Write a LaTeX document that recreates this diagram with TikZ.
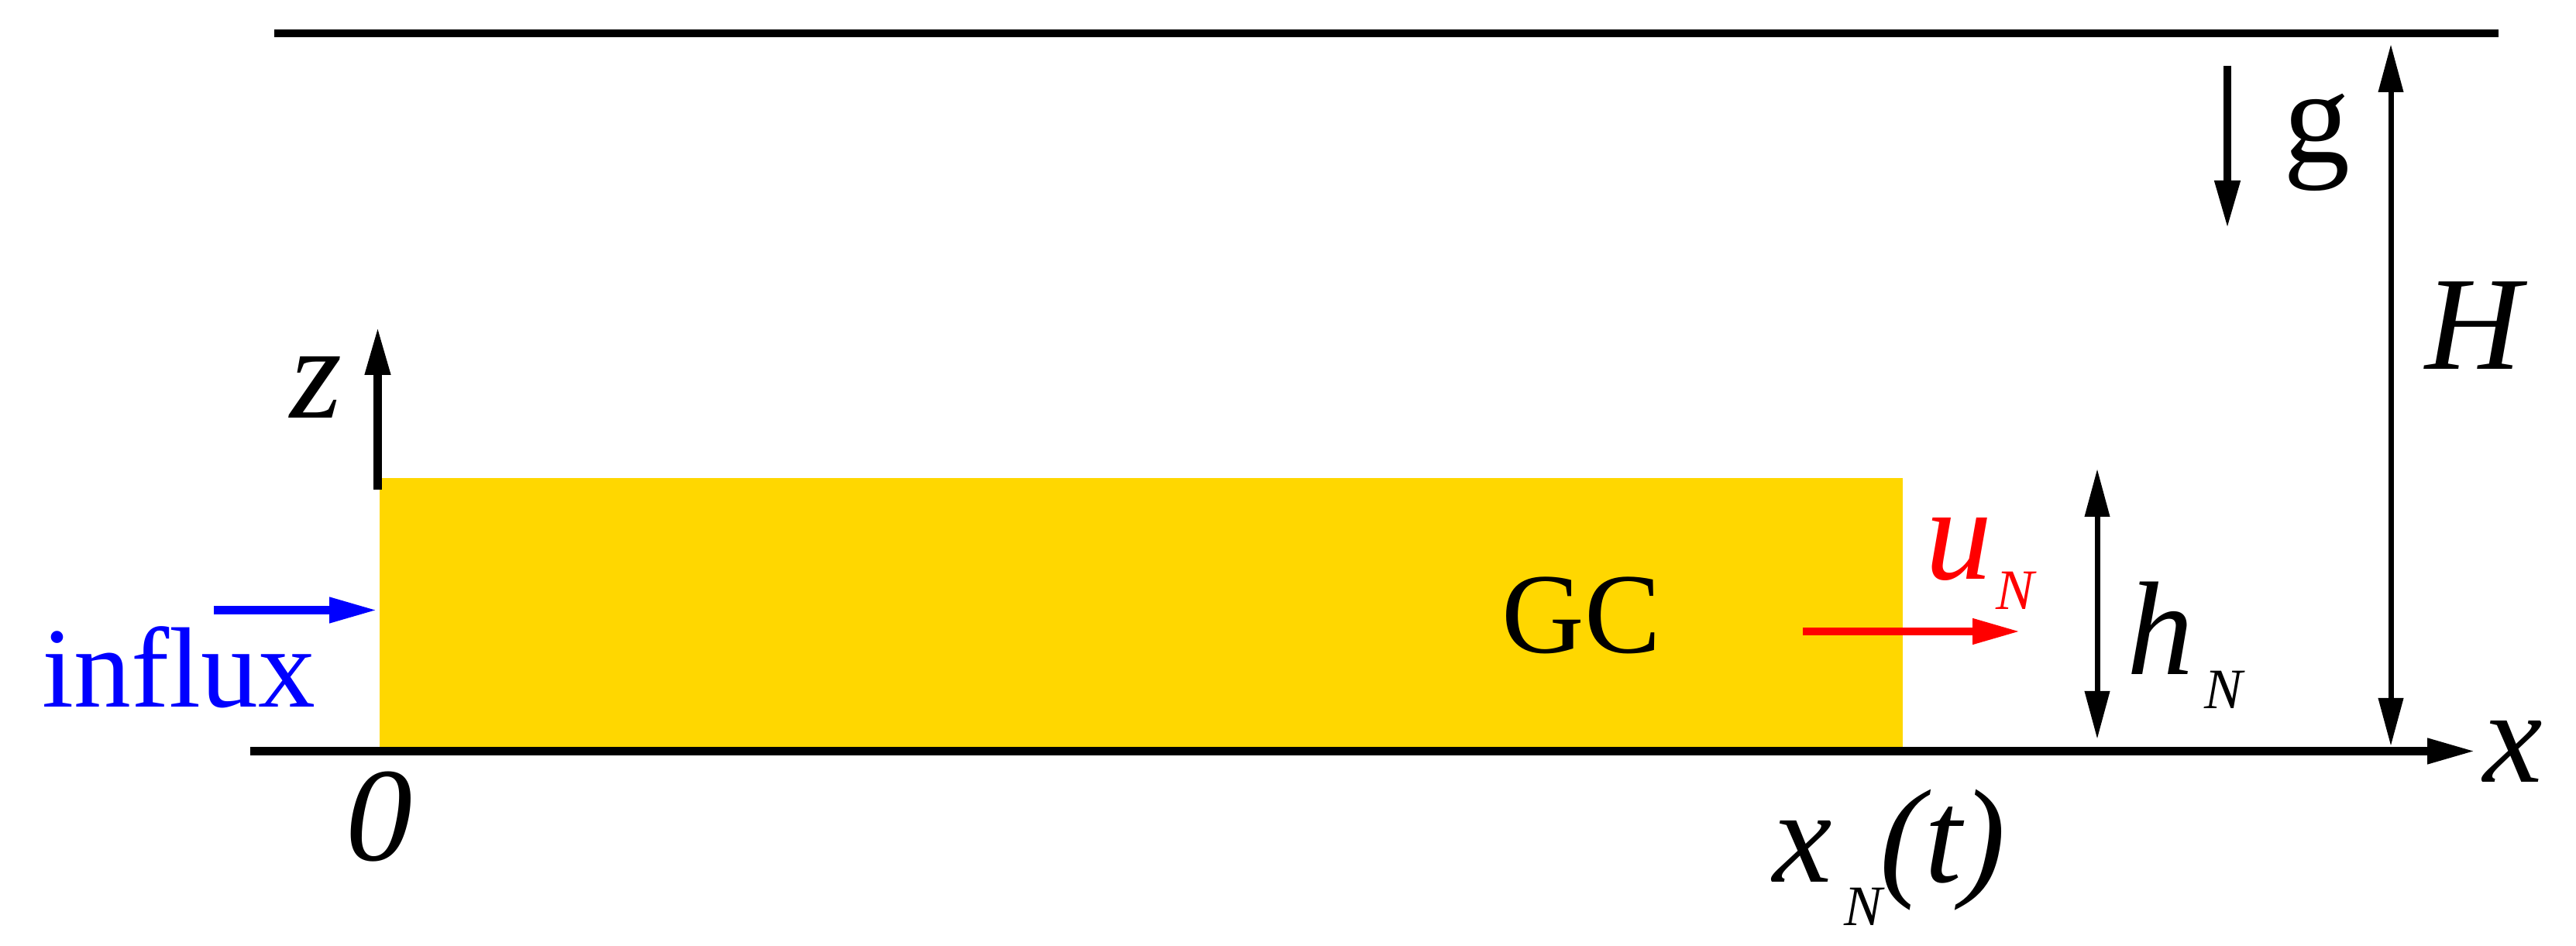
\documentclass[tikz,border=0pt]{standalone}
\usepackage{fontspec}
\setmainfont{Liberation Serif}
\usetikzlibrary{arrows.meta}
\definecolor{gcyellow}{RGB}{255,215,0}
\newcommand{\bigit}{\fontsize{49}{59}\selectfont\itshape}
\newcommand{\bigup}{\fontsize{49}{59}\selectfont}
\newcommand{\subit}{\fontsize{21}{25}\selectfont\itshape}
\newcommand{\bigrm}{\fontsize{42}{50}\selectfont}
\begin{document}
\begin{tikzpicture}[>={Triangle[length=0.62cm,width=0.31cm]},
	wall/.style={line width=0.105cm},
	thinarr/.style={line width=0.07cm,<->},
	lbl/.style={inner sep=0pt,anchor=base west}]
	\useasboundingbox (0,0) rectangle (33.25,12.21);
	% current body
	\fill[gcyellow] (4.90,2.57) rectangle (24.56,6.04);
	% walls
	\coordinate (bl) at (3.23,2.515);
	\coordinate (br) at (31.95,2.515);
	\coordinate (tl) at (3.54,11.78);
	\coordinate (tr) at (32.25,11.78);
	\draw[wall,->] (bl)--(br);
	\draw[wall] (tl)--(tr);
	% z axis
	\coordinate (z0) at (4.875,5.89);
	\coordinate (z1) at (4.875,7.99);
	\draw[wall,->] (z0)--(z1);
	% influx and front speed
	\coordinate (in0) at (2.76,4.335);
	\coordinate (in1) at (4.87,4.335);
	\draw[wall,blue,->] (in0)--(in1);
	\coordinate (u0) at (23.27,4.06);
	\coordinate (u1) at (26.08,4.06);
	\draw[wall,red,->] (u0)--(u1);
	% heights and gravity
	\coordinate (h0) at (27.07,2.67);
	\coordinate (h1) at (27.07,6.16);
	\draw[thinarr] (h0)--(h1);
	\coordinate (H0) at (30.86,2.58);
	\coordinate (H1) at (30.86,11.64);
	\draw[thinarr] (H0)--(H1);
	\coordinate (g0) at (28.75,11.36);
	\coordinate (g1) at (28.75,9.26);
	\draw[wall,->] (g0)--(g1);
	% labels
	\node[lbl,blue] (influx) at (0.54,3.08) {\bigrm influx};
	\node[lbl] (gc) at (19.38,3.78) {\bigrm GC};
	\node[lbl] (zlab) at (3.74,6.81) {\bigit z};
	\node[lbl] (glab) at (29.47,10.11) {\bigup g};
	\node[lbl] (Hlab) at (31.30,7.44) {\bigit H};
	\node[lbl] (hlab) at (27.45,3.50) {\bigit h};
	\node[lbl] (hsub) at (28.45,3.06) {\subit N};
	\node[lbl,red] (ulab) at (24.85,4.73) {\bigit u};
	\node[lbl,red] (usub) at (25.76,4.34) {\subit N};
	\node[lbl] (xlab) at (32.05,2.11) {\bigit x};
	\node[lbl] (zero) at (4.46,1.10) {\bigit 0};
	\node[lbl] (xN) at (22.88,0.82) {\bigit x};
	\node[lbl] (xNsub) at (23.80,0.26) {\subit N};
	\node[lbl] (xNt) at (24.26,0.82) {\bigit (t)};
\end{tikzpicture}
\end{document}
